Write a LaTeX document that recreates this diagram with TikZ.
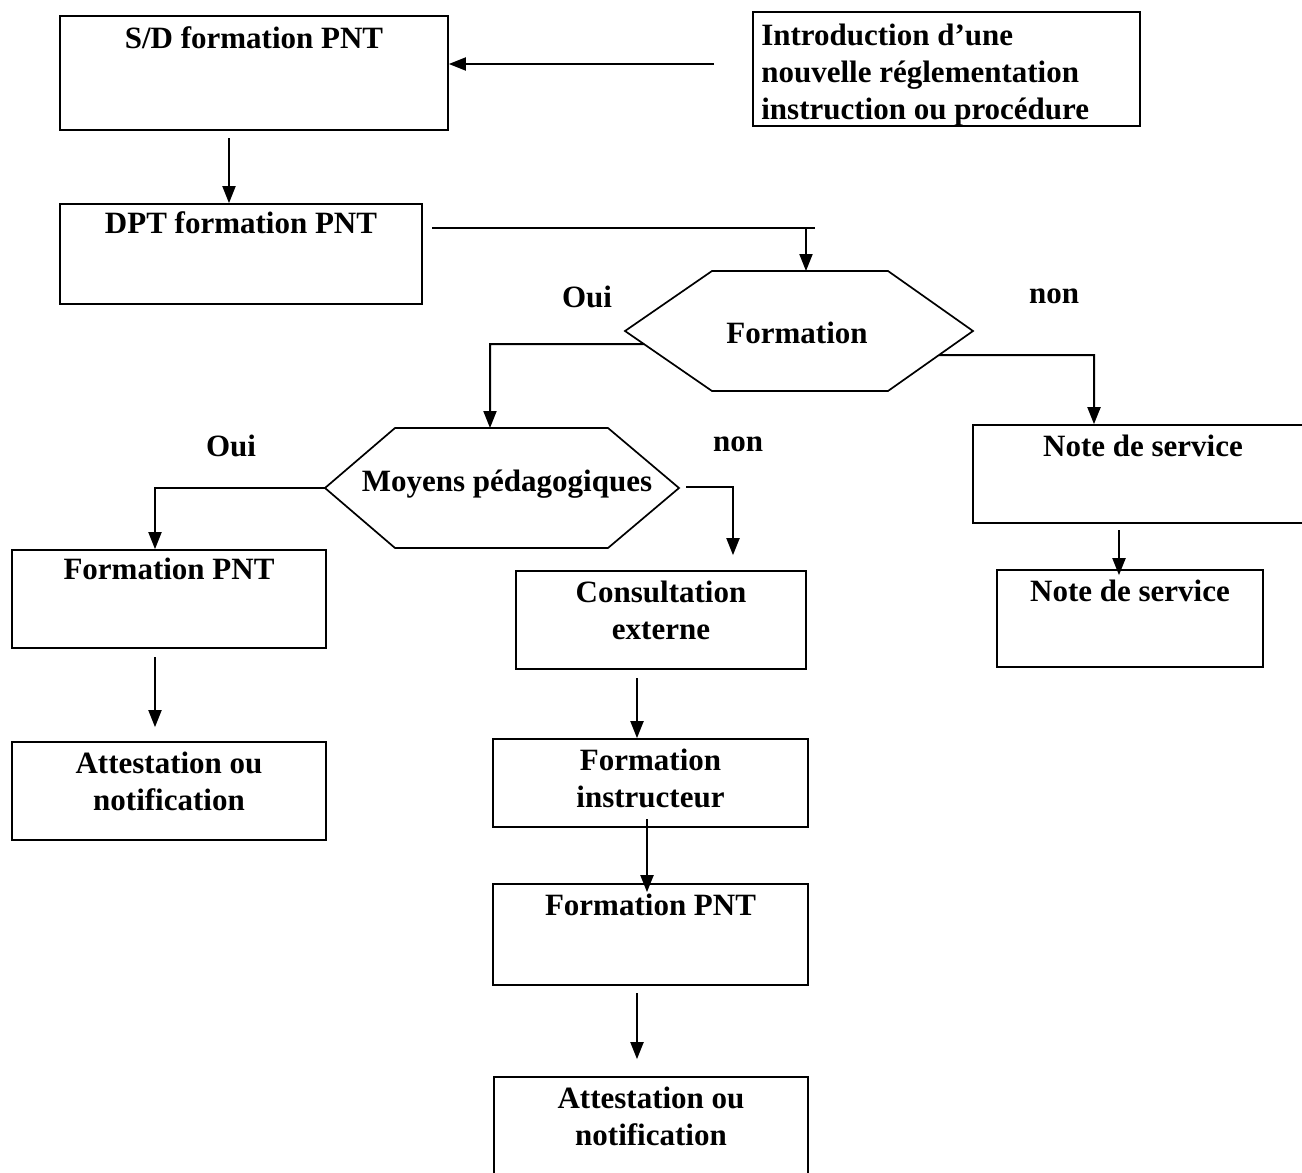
\documentclass[tikz,border=0pt]{standalone}
\usepackage{fontspec}
\setmainfont{Liberation Serif}
\usetikzlibrary{arrows.meta,calc}
\begin{document}
\begin{tikzpicture}[x=1pt,y=-1pt,
  every node/.style={font=\fontsize{31}{37}\selectfont\bfseries},
  box/.style={draw, line width=1.7pt, inner sep=0pt},
  ttl/.style={anchor=north, inner sep=0pt, align=center, yshift=-11pt},
  hexline/.style={draw, line width=1.7pt, line join=miter},
  plain/.style={inner sep=0pt},
  conn/.style={line width=2pt},
  arr/.style={line width=2pt, -{Triangle[width=13pt,length=17pt]}}
]
\useasboundingbox (0,0) rectangle (1302,1173);

% ---- boxes ----
\node[box, minimum width=388pt, minimum height=114pt,
      label={[ttl]north:S/D formation PNT}] (sd) at (254,73) {};
\node[box, minimum width=387pt, minimum height=114pt,
      label={[ttl, anchor=north west, align=left, xshift=9pt, yshift=-2pt]north west:Introduction d’une\\nouvelle réglementation\\instruction ou procédure}]
      (intro) at (946.5,69) {};
\node[box, minimum width=362pt, minimum height=100pt,
      label={[ttl, yshift=3pt]north:DPT formation PNT}] (dpt) at (241,254) {};

\node[box, minimum width=314pt, minimum height=98pt,
      label={[ttl, yshift=2pt]north:Formation PNT}] (fp1) at (169,599) {};
\node[box, minimum width=314pt, minimum height=98pt,
      label={[ttl]north:Attestation ou\\notification}] (att1) at (169,791) {};

\node[box, minimum width=290pt, minimum height=98pt,
      label={[ttl]north:Consultation\\externe}] (cons) at (661,620) {};
\node[box, minimum width=315pt, minimum height=88pt,
      label={[ttl]north:Formation\\instructeur}] (instr) at (650.5,783) {};
\node[box, minimum width=315pt, minimum height=101pt,
      label={[ttl]north:Formation PNT}] (fp2) at (650.5,934.5) {};
\node[box, minimum width=314pt, minimum height=104pt,
      label={[ttl]north:Attestation ou\\notification}] (att2) at (651,1129) {};

\node[box, minimum width=340pt, minimum height=98pt,
      label={[ttl]north:Note de service}] (ns1) at (1143,474) {};
\node[box, minimum width=266pt, minimum height=97pt,
      label={[ttl]north:Note de service}] (ns2) at (1130,618.5) {};

% ---- decision: Formation ----
\coordinate (fL)  at (625,331);
\coordinate (fTL) at (712,271);
\coordinate (fTR) at (888,271);
\coordinate (fR)  at (973,331);
\coordinate (fBR) at (888,391);
\coordinate (fBL) at (712,391);
\draw[hexline] (fL) -- (fTL) -- (fTR) -- (fR) -- (fBR) -- (fBL) -- cycle;
\node[plain] (fm) at (797,333) {Formation};

% ---- decision: Moyens pédagogiques ----
\coordinate (mL)  at (325,488);
\coordinate (mTL) at (395,428);
\coordinate (mTR) at (608,428);
\coordinate (mR)  at (679,488);
\coordinate (mBR) at (608,548);
\coordinate (mBL) at (395,548);
\draw[hexline] (mL) -- (mTL) -- (mTR) -- (mR) -- (mBR) -- (mBL) -- cycle;
\node[plain] (moy) at (507,484) {Moyens pédagogiques};

% ---- branch labels ----
\node[plain] (oui1) at (587,297) {Oui};
\node[plain] (non1) at (1054,296) {non};
\node[plain] (oui2) at (231,446) {Oui};
\node[plain] (non2) at (738,444) {non};

% ---- connectors ----
\coordinate (a1) at (714,64);
\draw[arr] (a1) -- (a1 -| sd.east);

\coordinate (a2) at (229,138);
\draw[arr] (a2) -- (a2 |- dpt.north);

\coordinate (a3s) at (432,228);
\coordinate (a3e) at (815,228);
\coordinate (a3) at (806,228);
\draw[conn] (a3s) -- (a3e);
\draw[arr] (a3) -- (a3 |- fTL);

\coordinate (b1) at ($(fL)!0.22!(fBL)$);
\coordinate (b1c) at (490,344);
\draw[arr] (b1) -- (b1c) -- (b1c |- mTL);

\coordinate (b2) at ($(fR)!0.4!(fBR)$);
\coordinate (b2c) at (1094,355);
\draw[arr] (b2) -- (b2c) -- (b2c |- ns1.north);

\coordinate (c1c) at (155,488);
\draw[arr] (mL) -- (c1c) -- (c1c |- fp1.north);

\coordinate (c2s) at (686,487);
\coordinate (c2c) at (733,487);
\draw[arr, shorten >=15pt] (c2s) -- (c2c) -- (c2c |- cons.north);

\coordinate (d1) at (155,657);
\draw[arr, shorten >=14pt] (d1) -- (d1 |- att1.north);

\coordinate (e1) at (637,678);
\draw[arr] (e1) -- (e1 |- instr.north);

\coordinate (e2) at (647,819);
\draw[arr, shorten >=-9pt] (e2) -- (e2 |- fp2.north);

\coordinate (e3) at (637,993);
\draw[arr, shorten >=17pt] (e3) -- (e3 |- att2.north);

\coordinate (g1) at (1119,530);
\draw[arr, shorten >=-6pt] (g1) -- (g1 |- ns2.north);
\end{tikzpicture}
\end{document}
